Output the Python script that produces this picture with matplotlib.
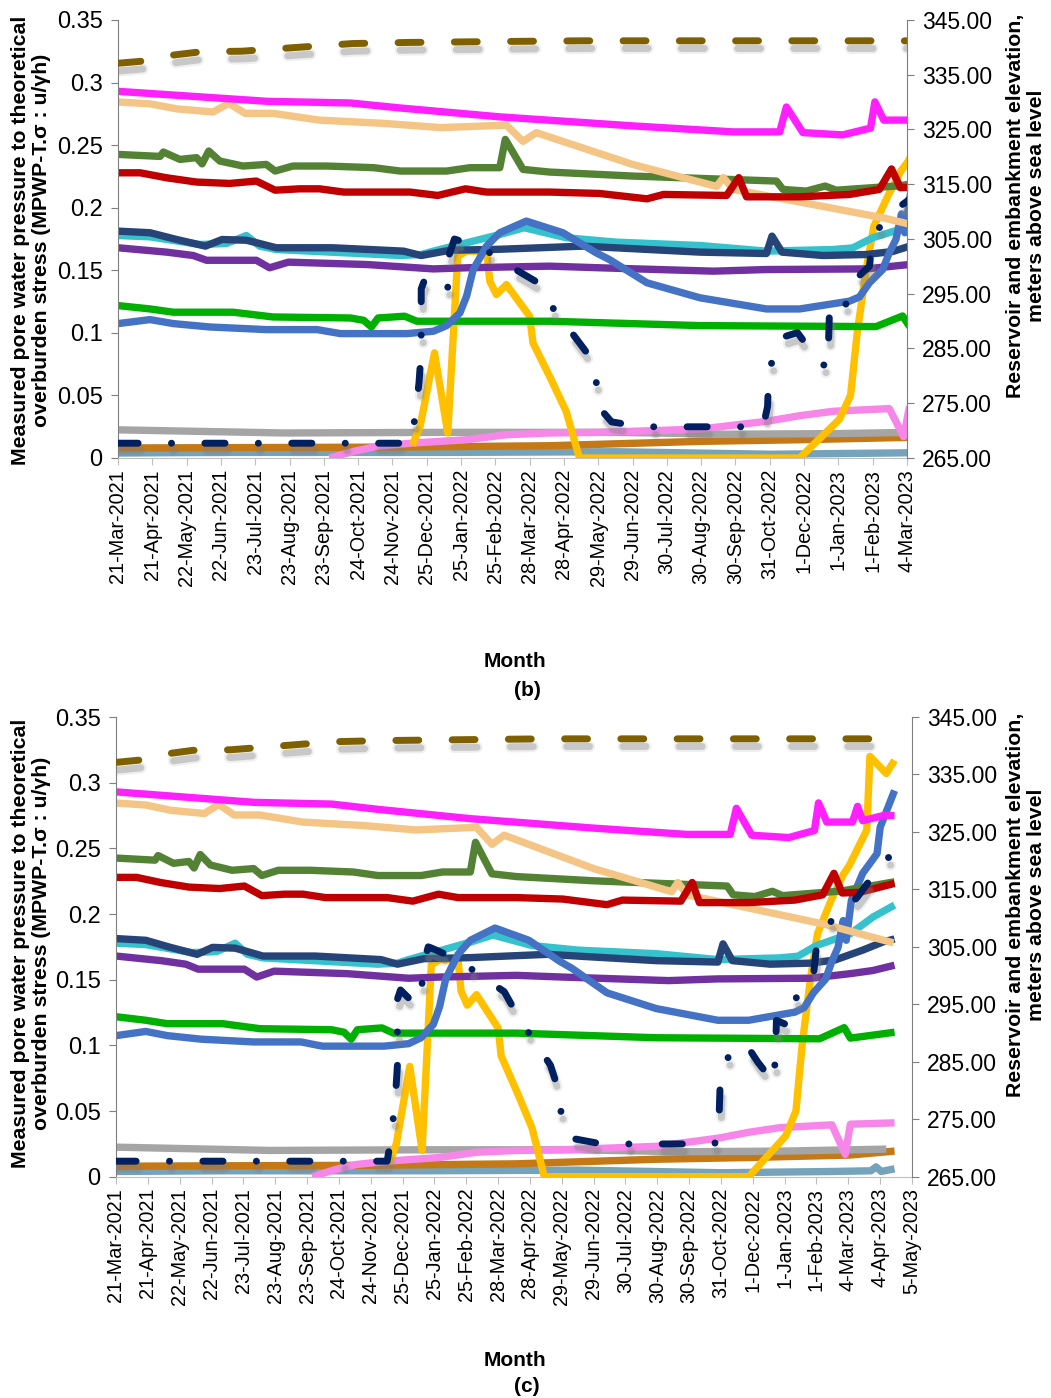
import matplotlib
matplotlib.use("Agg")
import matplotlib.pyplot as plt
from matplotlib import patheffects as pe

plt.rcParams['font.family'] = ['Liberation Sans', 'DejaVu Sans']

# x values are days counted from 21-Mar-2021 (ticks every 31 days)
tick_labels = ['21-Mar-2021', '21-Apr-2021', '22-May-2021', '22-Jun-2021', '23-Jul-2021',
               '23-Aug-2021', '23-Sep-2021', '24-Oct-2021', '24-Nov-2021', '25-Dec-2021',
               '25-Jan-2022', '25-Feb-2022', '28-Mar-2022', '28-Apr-2022', '29-May-2022',
               '29-Jun-2022', '30-Jul-2022', '30-Aug-2022', '30-Sep-2022', '31-Oct-2022',
               '1-Dec-2022', '1-Jan-2023', '1-Feb-2023', '4-Mar-2023', '4-Apr-2023', '5-May-2023']
tick_step = 31

# pore pressure ratios (left axis)
mag_d = [0, 135, 210, 255, 345, 465, 556, 598, 604, 619, 655, 680, 684, 692, 717, 722, 727, 747, 758]
mag_v = [0.293, 0.285, 0.2837, 0.2797, 0.2726, 0.2654, 0.2606, 0.2606, 0.2805, 0.260, 0.2582,
         0.2636, 0.2846, 0.27, 0.27, 0.282, 0.271, 0.275, 0.275]

tan_d = [0, 29, 53, 86, 100, 115, 140, 182, 240, 292, 351, 366, 378, 465, 541, 547, 556, 691, 757]
tan_v = [0.2845, 0.283, 0.279, 0.2765, 0.2834, 0.2754, 0.2754, 0.270, 0.2674, 0.264, 0.266,
         0.253, 0.260, 0.2346, 0.217, 0.224, 0.2146, 0.192, 0.178]

olv_d = [0, 38, 41, 56, 71, 76, 82, 92, 113, 134, 142, 158, 189, 231, 255, 297, 318, 345, 350,
         366, 390, 465, 595, 601, 622, 639, 649, 706, 758]
olv_v = [0.2426, 0.241, 0.2445, 0.2386, 0.24, 0.235, 0.2453, 0.2373, 0.2333, 0.2346, 0.2293,
         0.2333, 0.2333, 0.232, 0.2293, 0.2293, 0.232, 0.232, 0.2546, 0.2306, 0.2285, 0.2253,
         0.2213, 0.2146, 0.2133, 0.2173, 0.214, 0.2175, 0.2245]

red_d = [0, 20, 44, 71, 101, 125, 142, 164, 182, 204, 264, 289, 314, 333, 390, 435, 478, 493,
         550, 561, 568, 616, 661, 688, 699, 707, 724, 758]
red_v = [0.2279, 0.2279, 0.2239, 0.2205, 0.2194, 0.2213, 0.214, 0.2151, 0.2151, 0.2125, 0.2125,
         0.2098, 0.2151, 0.2125, 0.2125, 0.2114, 0.2071, 0.2106, 0.2098, 0.224, 0.2087, 0.2087,
         0.2106, 0.2146, 0.231, 0.216, 0.2165, 0.2233]

slt_d = [0, 29, 53, 79, 94, 116, 128, 143, 194, 258, 274, 300, 345, 420, 526, 586, 591, 600,
         637, 676, 700, 727, 747, 758]
slt_v = [0.1813, 0.180, 0.1746, 0.1693, 0.1746, 0.174, 0.1714, 0.168, 0.168, 0.1653, 0.1618,
         0.166, 0.1668, 0.1693, 0.1645, 0.1634, 0.1773, 0.1645, 0.1618, 0.1626, 0.165, 0.1725,
         0.1788, 0.181]

cyn_d = [0, 29, 74, 98, 116, 128, 143, 255, 274, 285, 345, 367, 405, 450, 526, 586, 646, 664,
         682, 715, 737, 758]
cyn_v = [0.1778, 0.1767, 0.1706, 0.1714, 0.1778, 0.1693, 0.1666, 0.1618, 0.1626, 0.1653, 0.1786,
         0.184, 0.176, 0.1725, 0.1698, 0.1653, 0.1666, 0.1679, 0.176, 0.185, 0.1977, 0.2068]

pur_d = [0, 44, 68, 80, 125, 137, 154, 225, 285, 315, 390, 435, 538, 586, 676, 715, 737, 758]
pur_v = [0.168, 0.1645, 0.1618, 0.158, 0.158, 0.152, 0.1565, 0.1546, 0.1511, 0.152, 0.1533,
         0.152, 0.1493, 0.1506, 0.1511, 0.1546, 0.157, 0.161]

grn_d = [0, 29, 50, 104, 140, 210, 222, 229, 235, 259, 270, 390, 526, 685, 709, 715, 758]
grn_v = [0.1218, 0.1191, 0.1165, 0.1165, 0.1127, 0.1119, 0.11, 0.1047, 0.1119, 0.1133, 0.1093,
         0.1093, 0.1058, 0.105, 0.1135, 0.1055, 0.110]

blu_d = [0, 29, 50, 83, 134, 180, 201, 261, 285, 297, 309, 315, 321, 333, 345, 369, 402, 432,
         444, 478, 526, 586, 616, 661, 670, 679, 691, 697, 703, 708, 711, 716, 727, 741, 744, 758]
blu_v = [0.1074, 0.1106, 0.1074, 0.1047, 0.1026, 0.1026, 0.0994, 0.0994, 0.1013, 0.1058, 0.116,
         0.1293, 0.1506, 0.1693, 0.180, 0.1893, 0.180, 0.164, 0.1586, 0.140, 0.128, 0.1191,
         0.1191, 0.1253, 0.1287, 0.14, 0.1506, 0.164, 0.1746, 0.195, 0.18, 0.2105, 0.231,
         0.246, 0.266, 0.294]

yel_d = [266, 273, 286, 298, 307, 315, 333, 336, 342, 351, 372, 375, 390, 405, 414, 417, 616,
         652, 662, 668, 676, 683, 696, 708, 714, 731, 734, 750, 758]
yel_v = [0.01, 0.0253, 0.084, 0.02, 0.1613, 0.1653, 0.1653, 0.1413, 0.1306, 0.1386, 0.1133,
         0.092, 0.0653, 0.0373, 0.0093, 0.0, 0.0, 0.031, 0.05, 0.1, 0.15, 0.185, 0.21, 0.23,
         0.237, 0.264, 0.32, 0.307, 0.317]

gry_d = [0, 60, 150, 300, 450, 550, 650, 750]
gry_v = [0.0225, 0.0215, 0.020, 0.0205, 0.0205, 0.019, 0.0195, 0.021]

pnk_d = [191, 213, 234, 267, 315, 351, 390, 435, 526, 586, 616, 646, 697, 710, 715, 758]
pnk_v = [0.0, 0.0053, 0.0093, 0.012, 0.0146, 0.0186, 0.02, 0.0205, 0.0231, 0.0293, 0.0338,
         0.0373, 0.0395, 0.017, 0.040, 0.041]

org_d = [0, 250, 390, 526, 616, 715, 758]
org_v = [0.008, 0.0087, 0.0098, 0.0133, 0.0146, 0.0165, 0.0195]

gbl_d = [0, 100, 300, 450, 590, 700, 735, 740, 745, 758]
gbl_v = [0.004, 0.0045, 0.0045, 0.005, 0.003, 0.004, 0.0045, 0.0075, 0.004, 0.006]

# elevations (right axis, m a.s.l.)
emb_d = [0, 23, 50, 75, 112, 162, 212, 262, 312, 362, 420, 758]
emb_v = [337.1, 337.5, 338.6, 339.2, 339.3, 340.0, 340.7, 340.9, 341.0, 341.1, 341.2, 341.2]

res_d = [0, 264, 268, 272, 274, 274, 274, 277, 286, 298, 298, 304, 307, 335, 357, 378, 393,
         410, 423, 432, 434, 446, 473, 583, 587, 588, 592, 598, 614, 625, 640, 642, 643, 655,
         664, 679, 682, 694, 713, 722, 736, 749, 758]
res_v = [267.7, 267.7, 271.9, 278.7, 284.4, 290.1, 295.9, 297.5, 295.9, 295.4, 301.3, 305.0,
         304.8, 302.6, 299.7, 297.2, 292.4, 287.9, 284.4, 279.4, 274.4, 271.6, 270.7, 270.7,
         274.4, 280.1, 283.5, 286.9, 287.9, 284.9, 281.5, 285.6, 292.2, 291.3, 297.2, 300.0,
         305.0, 309.1, 311.9, 313.7, 317.1, 320.3, 321.0]

left_series = [
    (gbl_d, gbl_v, '#75A3BB'),
    (org_d, org_v, '#C47816'),
    (gry_d, gry_v, '#A5A5A5'),
    (pnk_d, pnk_v, '#F786E9'),
    (yel_d, yel_v, '#FFC000'),
    (grn_d, grn_v, '#00B000'),
    (pur_d, pur_v, '#7030A0'),
    (cyn_d, cyn_v, '#36C2CC'),
    (slt_d, slt_v, '#264478'),
    (blu_d, blu_v, '#4472C4'),
    (olv_d, olv_v, '#548235'),
    (tan_d, tan_v, '#F4C584'),
    (red_d, red_v, '#C00000'),
    (mag_d, mag_v, '#FF1FFF'),
]

LW = 5.3
# soft grey drop shadow under the two elevation lines
shadow = [pe.SimpleLineShadow(offset=(1.5, -5.5), shadow_color='#808080', alpha=0.12, linewidth=8),
          pe.SimpleLineShadow(offset=(1.5, -5.5), shadow_color='#808080', alpha=0.35, linewidth=5),
          pe.Normal()]


def draw_panel(ax, n_ticks):
    for d, v, c in left_series:
        ax.plot(d, v, color=c, lw=LW, solid_joinstyle='round', solid_capstyle='butt')
    ax.set_xlim(0, (n_ticks - 1) * tick_step)
    ax.set_ylim(0, 0.35)
    ax.set_yticks([0, 0.05, 0.1, 0.15, 0.2, 0.25, 0.3, 0.35])
    ax.set_yticklabels(['0', '0.05', '0.1', '0.15', '0.2', '0.25', '0.3', '0.35'], fontsize=17)
    ax.set_xticks([k * tick_step for k in range(n_ticks)])
    ax.set_xticklabels(tick_labels[:n_ticks], rotation=90, fontsize=14.3)
    ax.tick_params(axis='x', length=5, color='#BFBFBF', pad=3)
    ax.tick_params(axis='y', length=5, color='#7F7F7F', pad=6)
    ax.spines['top'].set_visible(False)
    ax.spines['right'].set_visible(False)
    ax.spines['bottom'].set_color('#BFBFBF')
    ax.spines['left'].set_color('#7F7F7F')

    ax2 = ax.twinx()
    ax2.plot(emb_d, emb_v, color='#7F6000', lw=5, ls=(0, (3.3, 4.8)),
             dash_capstyle='round', path_effects=shadow)
    ax2.plot(res_d, res_v, color='#002060', lw=5, ls=(0, (2.9, 4.8, 0.01, 4.8)),
             dash_capstyle='round', dash_joinstyle='round', path_effects=shadow)
    ax2.set_ylim(265, 345)
    ax2.set_yticks(range(265, 346, 10))
    ax2.set_yticklabels([f'{t:.2f}' for t in range(265, 346, 10)], fontsize=16.5)
    ax2.tick_params(axis='y', length=5, color='#7F7F7F', pad=6)
    for s in ['top', 'left', 'bottom']:
        ax2.spines[s].set_visible(False)
    ax2.spines['right'].set_color('#7F7F7F')
    return ax2


fig = plt.figure(figsize=(10.51, 13.98), dpi=100)
W, H = 1051, 1398

ax_b = fig.add_axes([118 / W, 1 - 458 / H, 789 / W, 438 / H])
draw_panel(ax_b, 24)
ax_c = fig.add_axes([116 / W, 1 - 1176.7 / H, 796 / W, 459.7 / H])
draw_panel(ax_c, 26)

left_lab = 'Measured pore water pressure to theoretical\noverburden stress (MPWP-T.σ : u/γh)'
right_lab = 'Reservoir and embankment elevation,\nmeters above sea level'
for yc_left, yc_right, y_month, y_tag, tag in [(240, 206, 662, 691, '(b)'),
                                               (943, 905, 1360, 1387, '(c)')]:
    fig.text(31 / W, 1 - yc_left / H, left_lab, rotation=90, ha='center', va='center',
             multialignment='center', fontsize=15.3, fontweight='bold', linespacing=1.1)
    fig.text(1026 / W, 1 - yc_right / H, right_lab, rotation=90, ha='center', va='center',
             multialignment='center', fontsize=15.3, fontweight='bold', linespacing=1.1)
    fig.text(515 / W, 1 - y_month / H, 'Month', ha='center', va='center',
             fontsize=15, fontweight='bold')
    fig.text(527 / W, 1 - y_tag / H, tag, ha='center', va='center',
             fontsize=15, fontweight='bold')

fig.savefig('out.png', dpi=100)
